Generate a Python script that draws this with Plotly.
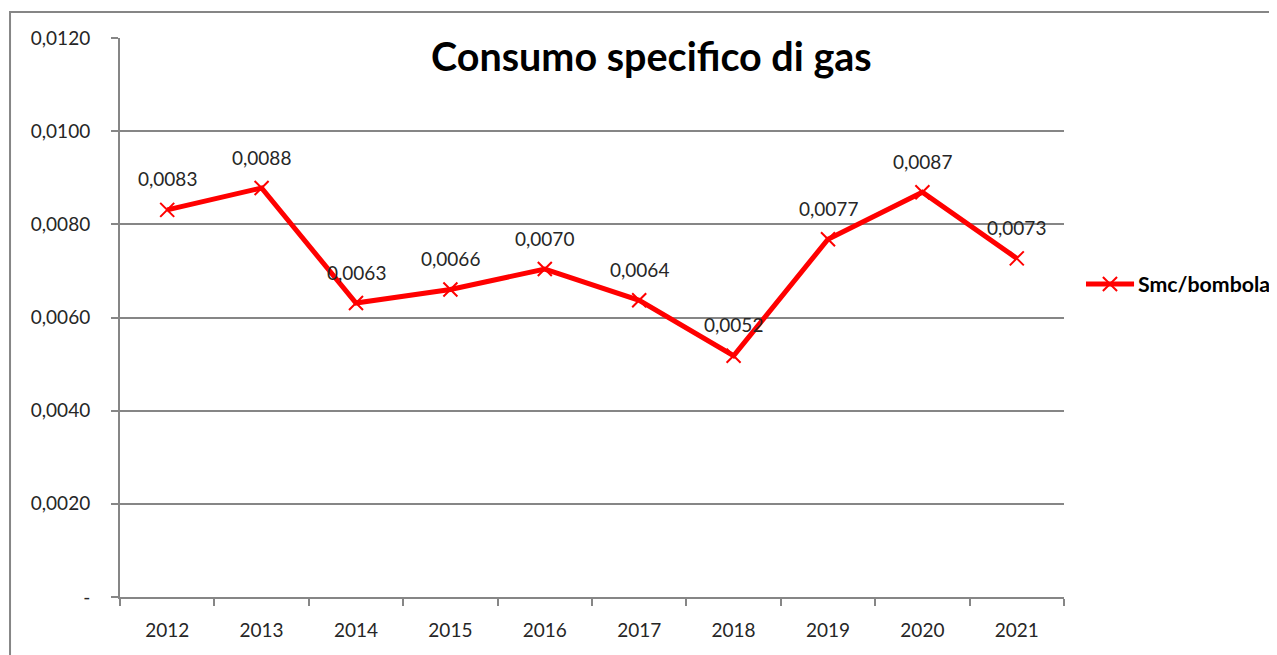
import plotly.graph_objects as go

years = ["2012", "2013", "2014", "2015", "2016", "2017", "2018", "2019", "2020", "2021"]
smc_bombola = [0.00831, 0.00878, 0.00631, 0.00660, 0.00704, 0.00637, 0.00518, 0.00768, 0.00869, 0.00727]
y_tick_vals = [0, 0.002, 0.004, 0.006, 0.008, 0.010, 0.012]
y_tick_text = ["-", "0,0020", "0,0040", "0,0060", "0,0080", "0,0100", "0,0120"]
series_name = "Smc/bombola"
title_text = "Consumo specifico di gas"

FONT = "Lato"
GRID = "#868686"
TXT = "#262626"
RED = "#FF0000"

fig = go.Figure()
fig.add_trace(go.Scatter(
    x=years, y=smc_bombola, mode="lines+markers", name=series_name, showlegend=False,
    line=dict(color=RED, width=5),
    marker=dict(symbol="x-thin", size=14, line=dict(color=RED, width=2), color=RED),
))

for i, v in enumerate(smc_bombola):
    fig.add_annotation(x=i, y=v, xref="x", yref="y", text=f"{v:.4f}".replace(".", ","),
                       showarrow=False, xanchor="center", yanchor="middle",
                       yshift=31, font=dict(family=FONT, size=19, color=TXT))

fig.add_annotation(xref="paper", yref="paper", x=0.563, y=0.968, xanchor="center", yanchor="middle",
                   text="<b>" + title_text + "</b>",
                   showarrow=False, font=dict(family=FONT, size=39.5, color="#000000"))

# chart area border
fig.add_shape(type="rect", xref="paper", yref="paper", x0=-0.1165, x1=1.3, y0=-0.2, y1=1.0465,
              line=dict(color="#868686", width=2), fillcolor="rgba(0,0,0,0)", layer="below")

# manual legend (line sample with x marker + bold label)
ly = 0.56
fig.add_shape(type="line", xref="paper", yref="paper", x0=1.0233, x1=1.0742, y0=ly, y1=ly,
              line=dict(color=RED, width=5))
dx, dy = 0.0075, 0.0125
fig.add_shape(type="line", xref="paper", yref="paper", x0=1.0487 - dx, x1=1.0487 + dx,
              y0=ly - dy, y1=ly + dy, line=dict(color=RED, width=2))
fig.add_shape(type="line", xref="paper", yref="paper", x0=1.0487 - dx, x1=1.0487 + dx,
              y0=ly + dy, y1=ly - dy, line=dict(color=RED, width=2))
fig.add_annotation(xref="paper", yref="paper", x=1.0765, y=ly, xanchor="left", yanchor="middle",
                   text="<b>" + series_name + "</b>", showarrow=False,
                   font=dict(family=FONT, size=21.3, color="#000000"))

fig.update_layout(
    width=1269, height=647,
    margin=dict(l=112, r=213, t=30, b=58, autoexpand=False),
    paper_bgcolor="white", plot_bgcolor="white",
    showlegend=False,
    font=dict(family=FONT, size=19, color=TXT),
)
fig.update_xaxes(type="category", range=[-0.5, 9.5], showgrid=False, showline=True,
                 linecolor=GRID, linewidth=2, ticks="outside", ticklen=7, tickcolor=GRID,
                 tickwidth=2, tickson="boundaries", ticklabelstandoff=15, automargin=False,
                 tickfont=dict(family=FONT, size=19, color=TXT))
fig.update_yaxes(range=[0, 0.012], tickvals=y_tick_vals, ticktext=y_tick_text,
                 showgrid=True, gridcolor=GRID, gridwidth=2, showline=True, linecolor=GRID,
                 linewidth=2, ticks="outside", ticklen=7, tickcolor=GRID, tickwidth=2,
                 zeroline=False, ticklabelstandoff=17, automargin=False,
                 tickfont=dict(family=FONT, size=19, color=TXT))

fig.write_html("out.html")
